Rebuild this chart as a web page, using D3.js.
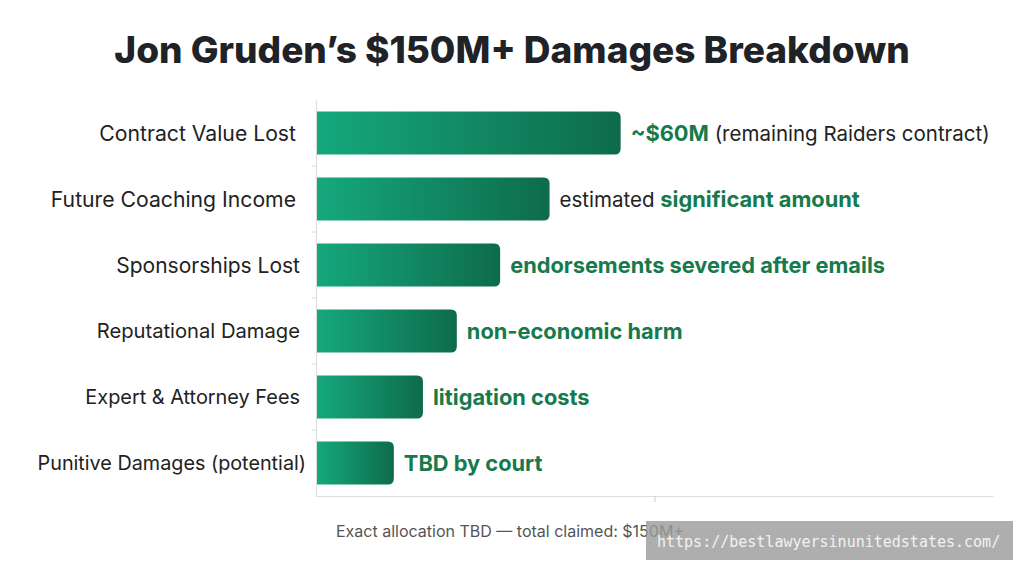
<!DOCTYPE html>
<html><head><meta charset="utf-8">
<script src="https://cdn.jsdelivr.net/npm/d3@7"></script>
<style>
body{margin:0;background:#fff;}
svg{display:block;font-family:Inter,"Noto Sans",sans-serif;}
</style></head>
<body><svg id="c" width="1024" height="572"></svg>
<script>
const categories = ["Contract Value Lost","Future Coaching Income","Sponsorships Lost","Reputational Damage","Expert & Attorney Fees","Punitive Damages (potential)"];
const values = [45, 34.5, 27.2, 20.8, 15.8, 11.5];
const labelPre = ["", "estimated ", "", "", "", ""];
const labelBold = ["~$60M", "significant amount", "endorsements severed after emails", "non-economic harm", "litigation costs", "TBD by court"];
const labelPost = [" (remaining Raiders contract)", "", "", "", "", ""];
const xTicks = [50];
const title = "Jon Gruden\u2019s $150M+ Damages Breakdown";
const footer = "Exact allocation TBD \u2014 total claimed: $150M+";
const watermark = "https://bestlawyersinunitedstates.com/";

const svg = d3.select("#c");
const m = {left:316, right:993, top:100, bottom:496};
const x = d3.scaleLinear().domain([0,100]).range([m.left, m.right]);
const y = d3.scaleBand().domain(categories).range([m.top, m.bottom]).paddingInner(0.35).paddingOuter(0.175);

const defs = svg.append("defs");
const g = defs.append("linearGradient").attr("id","barGrad").attr("x1","0%").attr("x2","100%").attr("y1","0").attr("y2","0");
g.append("stop").attr("offset","0%").attr("stop-color","#15a87c");
g.append("stop").attr("offset","100%").attr("stop-color","#0e6b4b");

svg.append("text").attr("x",512).attr("y",63).attr("text-anchor","middle")
  .attr("font-size",37).attr("font-weight",800).attr("fill","#1f2226").text(title);

// axes
const yAxis = svg.append("g").attr("transform",`translate(${m.left},0)`)
  .call(d3.axisLeft(y).tickSize(0).tickFormat(""));
yAxis.select(".domain").attr("stroke","#dedede").attr("stroke-width",1.2);
yAxis.selectAll(".bt").data(categories.slice(1)).enter().append("line")
  .attr("x1",-4).attr("x2",0)
  .attr("y1",d=>y(d)-y.step()*y.paddingInner()/2).attr("y2",d=>y(d)-y.step()*y.paddingInner()/2)
  .attr("stroke","#d8d8d8");

const xAxis = svg.append("g").attr("transform",`translate(0,${m.bottom})`)
  .call(d3.axisBottom(x).tickValues(xTicks).tickSize(6).tickFormat("").tickSizeOuter(0));
xAxis.select(".domain").attr("stroke","#dedede").attr("stroke-width",1.2);
xAxis.selectAll(".tick line").attr("stroke","#cfcfcf");

// category labels
const labelSizes = [21.2, 21.2, 21, 20.2, 19.9, 19.8];
svg.append("g").selectAll("text").data(categories).enter().append("text")
  .attr("x",(d,i)=> i===5 ? 306 : (i<2 ? 296 : 300))
  .attr("y",d=>y(d)+y.bandwidth()/2).attr("dy","0.36em")
  .attr("text-anchor","end").attr("font-size",(d,i)=>labelSizes[i]).attr("fill","#222").text(d=>d);

// bars
const r = 6;
svg.append("g").selectAll("path").data(values).enter().append("path")
  .attr("fill","url(#barGrad)")
  .attr("d",(v,i)=>{
    const x0 = x(0)+1, x1 = x(v), y0 = y(categories[i]), h = y.bandwidth();
    return `M${x0},${y0}H${x1-r}Q${x1},${y0} ${x1},${y0+r}V${y0+h-r}Q${x1},${y0+h} ${x1-r},${y0+h}H${x0}Z`;
  });

// value labels
const lab = svg.append("g").selectAll("text").data(values).enter().append("text")
  .attr("x",(v)=>x(v)+10).attr("y",(v,i)=>y(categories[i])+y.bandwidth()/2+1).attr("dy","0.36em")
  .attr("font-size",20.5);
lab.append("tspan").attr("fill","#222").text((v,i)=>labelPre[i]);
lab.append("tspan").attr("fill","#167a4c").attr("font-weight",700).attr("font-size",21.8).text((v,i)=>labelBold[i]);
lab.append("tspan").attr("fill","#222").text((v,i)=>labelPost[i]);

// footer
svg.append("text").attr("x",336).attr("y",537).attr("font-size",16).attr("fill","#555").text(footer);

// watermark
svg.append("rect").attr("x",646).attr("y",521).attr("width",367).attr("height",39).attr("fill","#9c9c9c").attr("opacity",0.82);
svg.append("text").attr("x",657).attr("y",547).attr("font-family","'DejaVu Sans Mono','Liberation Mono',monospace")
  .attr("font-size",15).attr("fill","#f2f2f2").text(watermark);
</script></body></html>
